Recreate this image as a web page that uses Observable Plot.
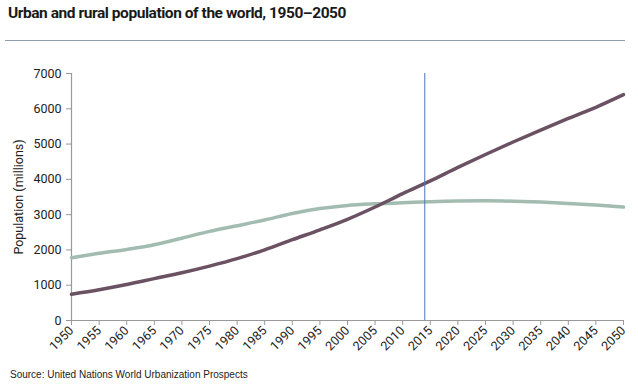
<!DOCTYPE html>
<html>
<head>
<meta charset="utf-8">
<script src="https://cdn.jsdelivr.net/npm/d3@7"></script>
<script src="https://cdn.jsdelivr.net/npm/@observablehq/plot@0.6"></script>
<style>
  html, body { margin: 0; padding: 0; background: #fff; }
  #wrap { position: relative; width: 638px; height: 389px; overflow: hidden; }
  #title { position: absolute; left: 8px; top: 4px; font-family: Roboto, sans-serif; font-weight: 700; font-size: 15.5px; color: #1a1a1a; letter-spacing: -0.45px; }
  #rule { position: absolute; left: 5px; top: 40px; width: 620px; height: 0; border-top: 1.5px solid #8b9fb3; }
  #chart { position: absolute; left: 0; top: 50px; }
  #caption { position: absolute; left: 10px; top: 369px; font-family: "Liberation Sans", Arial, sans-serif; font-size: 10px; color: #222; }
</style>
</head>
<body>
<div id="wrap">
  <div id="title">Urban and rural population of the world, 1950–2050</div>
  <div id="rule"></div>
  <div id="chart"></div>
  <div id="caption">Source: United Nations World Urbanization Prospects</div>
</div>
<script>
const years = [1950,1955,1960,1965,1970,1975,1980,1985,1990,1995,2000,2005,2010,2015,2020,2025,2030,2035,2040,2045,2050];
const urban = [746,872,1019,1186,1354,1541,1752,2003,2290,2570,2868,3216,3595,3957,4338,4705,5058,5397,5726,6042,6400];
const rural = [1780,1904,2013,2145,2333,2525,2686,2850,3032,3172,3262,3306,3335,3367,3387,3392,3380,3355,3318,3270,3215];
const yTicks = [0,1000,2000,3000,4000,5000,6000,7000];
const markerYear = 2014;

const rows = [];
years.forEach((yr, i) => {
  rows.push({year: yr, value: rural[i], series: "Rural"});
  rows.push({year: yr, value: urban[i], series: "Urban"});
});

const chart = Plot.plot({
  width: 638,
  height: 318,
  marginTop: 23,
  marginLeft: 71,
  marginRight: 15,
  marginBottom: 48,
  style: { fontFamily: "Roboto, sans-serif", fontSize: "12.5px", color: "#222", background: "#fff" },
  x: { domain: [1950, 2050], ticks: years, tickFormat: d => String(d), tickRotate: -45, tickSize: 5, tickPadding: 3, label: null },
  y: { domain: [0, 7000], ticks: yTicks, tickFormat: d => String(d), tickSize: 5, tickPadding: 5, label: "Population (millions)", labelAnchor: "center", labelArrow: "none", labelOffset: 57 },
  color: { domain: ["Rural", "Urban"], range: ["#a2bcb1", "#6b5262"] },
  marks: [
    Plot.ruleX([1950], { stroke: "#999", strokeWidth: 1.2 }),
    Plot.ruleY([0], { stroke: "#999", strokeWidth: 1.2 }),
    Plot.line(rows, { x: "year", y: "value", z: "series", stroke: "series", strokeWidth: 3.5, curve: "monotone-x" }),
    Plot.ruleX([markerYear], { y1: 0, y2: 7000, stroke: "#4a79b3", strokeWidth: 1 })
  ]
});
chart.querySelectorAll("[aria-label='x-axis tick'] path, [aria-label='y-axis tick'] path").forEach(p => p.setAttribute("stroke", "#999"));
document.getElementById("chart").appendChild(chart);
</script>
</body>
</html>
